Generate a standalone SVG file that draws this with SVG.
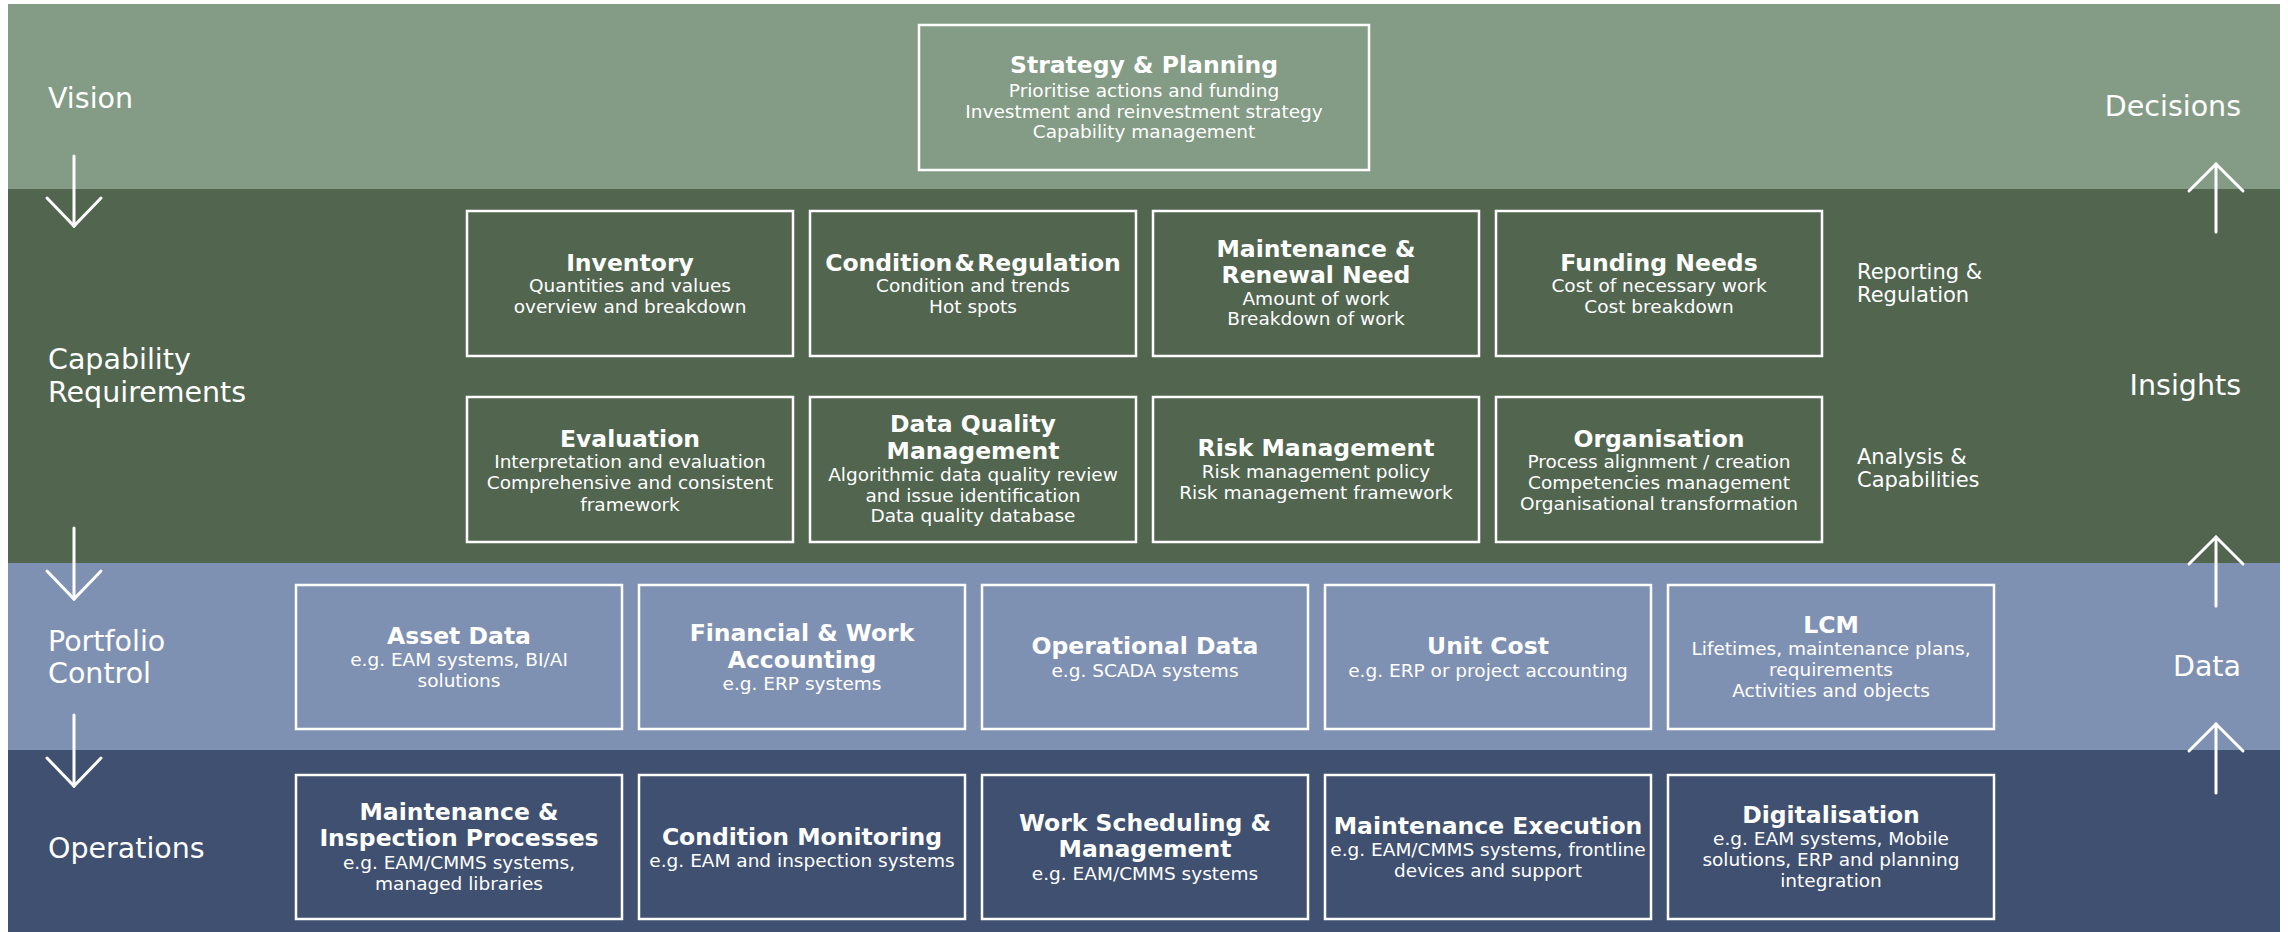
<svg xmlns="http://www.w3.org/2000/svg" width="2288" height="932" viewBox="0 0 2288 932">
  <style>
    .band-label { font-family: "DejaVu Sans", Verdana, sans-serif; font-size: 28.5px; fill: #ffffff; }
    .side-label { font-family: "DejaVu Sans", Verdana, sans-serif; font-size: 21px; fill: #ffffff; }
    .box { fill: none; stroke: #ffffff; stroke-width: 2.5; }
    .title { font-family: "DejaVu Sans", Verdana, sans-serif; font-size: 23.5px; font-weight: bold; fill: #ffffff; text-anchor: middle; }
    .sub { font-family: "DejaVu Sans", Verdana, sans-serif; font-size: 18.5px; fill: #ffffff; text-anchor: middle; }
    .flow { fill: none; stroke: #ffffff; stroke-width: 3; stroke-linecap: round; stroke-linejoin: miter; }
  </style>

  <rect x="0" y="0" width="2288" height="932" fill="#ffffff"/>

  <!-- Layer bands -->
  <g id="bands">
    <rect x="8" y="4" width="2272" height="185" fill="#849c85"/>
    <rect x="8" y="189" width="2272" height="374" fill="#51654f"/>
    <rect x="8" y="563" width="2272" height="187" fill="#7f91b3"/>
    <rect x="8" y="750" width="2272" height="182" fill="#3f5070"/>
  </g>

  <!-- Layer names (left) -->
  <g id="layer-names">
    <text class="band-label" x="48" y="108">Vision</text>
    <text class="band-label" x="48" y="369">Capability</text>
    <text class="band-label" x="48" y="402">Requirements</text>
    <text class="band-label" x="48" y="651">Portfolio</text>
    <text class="band-label" x="48" y="683">Control</text>
    <text class="band-label" x="48" y="858">Operations</text>
  </g>

  <!-- Layer outputs (right) -->
  <g id="layer-outputs">
    <text class="band-label" x="2241" y="116" text-anchor="end">Decisions</text>
    <text class="band-label" x="2241" y="395" text-anchor="end">Insights</text>
    <text class="band-label" x="2241" y="676" text-anchor="end">Data</text>
    <text class="side-label" x="1857" y="279">Reporting &amp;</text>
    <text class="side-label" x="1857" y="302">Regulation</text>
    <text class="side-label" x="1857" y="464">Analysis &amp;</text>
    <text class="side-label" x="1857" y="487">Capabilities</text>
  </g>

  <!-- Flow arrows: top-down on the left, bottom-up on the right -->
  <g id="connectors">
    <line class="flow" x1="74" y1="156" x2="74" y2="226"/>
    <polyline class="flow" points="47,198 74,226 101,198"/>
    <line class="flow" x1="74" y1="528" x2="74" y2="599"/>
    <polyline class="flow" points="47,571 74,599 101,571"/>
    <line class="flow" x1="74" y1="715" x2="74" y2="786"/>
    <polyline class="flow" points="47,758 74,786 101,758"/>

    <line class="flow" x1="2216" y1="232" x2="2216" y2="164"/>
    <polyline class="flow" points="2189,191 2216,164 2243,191"/>
    <line class="flow" x1="2216" y1="606" x2="2216" y2="537"/>
    <polyline class="flow" points="2189,564 2216,537 2243,564"/>
    <line class="flow" x1="2216" y1="793" x2="2216" y2="724"/>
    <polyline class="flow" points="2189,751 2216,724 2243,751"/>
  </g>

  <!-- Vision -->
  <g id="strategy-planning">
    <rect class="box" x="919" y="25" width="450" height="145"/>
    <text class="title" x="1144" y="73">Strategy &amp; Planning</text>
    <text class="sub" x="1144" y="97">Prioritise actions and funding</text>
    <text class="sub" x="1144" y="118">Investment and reinvestment strategy</text>
    <text class="sub" x="1144" y="138">Capability management</text>
  </g>

  <!-- Capability requirements, first row -->
  <g id="inventory">
    <rect class="box" x="467" y="211" width="326" height="145"/>
    <text class="title" x="630" y="271">Inventory</text>
    <text class="sub" x="630" y="292">Quantities and values</text>
    <text class="sub" x="630" y="313">overview and breakdown</text>
  </g>
  <g id="condition-regulation">
    <rect class="box" x="810" y="211" width="326" height="145"/>
    <text class="title" x="973" y="271" word-spacing="-6">Condition &amp; Regulation</text>
    <text class="sub" x="973" y="292">Condition and trends</text>
    <text class="sub" x="973" y="313">Hot spots</text>
  </g>
  <g id="maintenance-renewal-need">
    <rect class="box" x="1153" y="211" width="326" height="145"/>
    <text class="title" x="1316" y="257">Maintenance &amp;</text>
    <text class="title" x="1316" y="283">Renewal Need</text>
    <text class="sub" x="1316" y="305">Amount of work</text>
    <text class="sub" x="1316" y="325">Breakdown of work</text>
  </g>
  <g id="funding-needs">
    <rect class="box" x="1496" y="211" width="326" height="145"/>
    <text class="title" x="1659" y="271">Funding Needs</text>
    <text class="sub" x="1659" y="292">Cost of necessary work</text>
    <text class="sub" x="1659" y="313">Cost breakdown</text>
  </g>

  <!-- Capability requirements, second row -->
  <g id="evaluation">
    <rect class="box" x="467" y="397" width="326" height="145"/>
    <text class="title" x="630" y="447">Evaluation</text>
    <text class="sub" x="630" y="468">Interpretation and evaluation</text>
    <text class="sub" x="630" y="489">Comprehensive and consistent</text>
    <text class="sub" x="630" y="511">framework</text>
  </g>
  <g id="data-quality-management">
    <rect class="box" x="810" y="397" width="326" height="145"/>
    <text class="title" x="973" y="432">Data Quality</text>
    <text class="title" x="973" y="459">Management</text>
    <text class="sub" x="973" y="481">Algorithmic data quality review</text>
    <text class="sub" x="973" y="502">and issue identification</text>
    <text class="sub" x="973" y="522">Data quality database</text>
  </g>
  <g id="risk-management">
    <rect class="box" x="1153" y="397" width="326" height="145"/>
    <text class="title" x="1316" y="456">Risk Management</text>
    <text class="sub" x="1316" y="478">Risk management policy</text>
    <text class="sub" x="1316" y="499">Risk management framework</text>
  </g>
  <g id="organisation">
    <rect class="box" x="1496" y="397" width="326" height="145"/>
    <text class="title" x="1659" y="447">Organisation</text>
    <text class="sub" x="1659" y="468">Process alignment / creation</text>
    <text class="sub" x="1659" y="489">Competencies management</text>
    <text class="sub" x="1659" y="510">Organisational transformation</text>
  </g>

  <!-- Portfolio control -->
  <g id="asset-data">
    <rect class="box" x="296" y="585" width="326" height="144"/>
    <text class="title" x="459" y="644">Asset Data</text>
    <text class="sub" x="459" y="666">e.g. EAM systems, BI/AI</text>
    <text class="sub" x="459" y="687">solutions</text>
  </g>
  <g id="financial-work-accounting">
    <rect class="box" x="639" y="585" width="326" height="144"/>
    <text class="title" x="802" y="641">Financial &amp; Work</text>
    <text class="title" x="802" y="668">Accounting</text>
    <text class="sub" x="802" y="690">e.g. ERP systems</text>
  </g>
  <g id="operational-data">
    <rect class="box" x="982" y="585" width="326" height="144"/>
    <text class="title" x="1145" y="654">Operational Data</text>
    <text class="sub" x="1145" y="677">e.g. SCADA systems</text>
  </g>
  <g id="unit-cost">
    <rect class="box" x="1325" y="585" width="326" height="144"/>
    <text class="title" x="1488" y="654">Unit Cost</text>
    <text class="sub" x="1488" y="677">e.g. ERP or project accounting</text>
  </g>
  <g id="lcm">
    <rect class="box" x="1668" y="585" width="326" height="144"/>
    <text class="title" x="1831" y="633">LCM</text>
    <text class="sub" x="1831" y="655">Lifetimes, maintenance plans,</text>
    <text class="sub" x="1831" y="676">requirements</text>
    <text class="sub" x="1831" y="697">Activities and objects</text>
  </g>

  <!-- Operations -->
  <g id="maintenance-inspection">
    <rect class="box" x="296" y="775" width="326" height="144"/>
    <text class="title" x="459" y="820">Maintenance &amp;</text>
    <text class="title" x="459" y="846">Inspection Processes</text>
    <text class="sub" x="459" y="869">e.g. EAM/CMMS systems,</text>
    <text class="sub" x="459" y="890">managed libraries</text>
  </g>
  <g id="condition-monitoring">
    <rect class="box" x="639" y="775" width="326" height="144"/>
    <text class="title" x="802" y="845">Condition Monitoring</text>
    <text class="sub" x="802" y="867">e.g. EAM and inspection systems</text>
  </g>
  <g id="work-scheduling">
    <rect class="box" x="982" y="775" width="326" height="144"/>
    <text class="title" x="1145" y="831">Work Scheduling &amp;</text>
    <text class="title" x="1145" y="857">Management</text>
    <text class="sub" x="1145" y="880">e.g. EAM/CMMS systems</text>
  </g>
  <g id="maintenance-execution">
    <rect class="box" x="1325" y="775" width="326" height="144"/>
    <text class="title" x="1488" y="834">Maintenance Execution</text>
    <text class="sub" x="1488" y="856">e.g. EAM/CMMS systems, frontline</text>
    <text class="sub" x="1488" y="877">devices and support</text>
  </g>
  <g id="digitalisation">
    <rect class="box" x="1668" y="775" width="326" height="144"/>
    <text class="title" x="1831" y="823">Digitalisation</text>
    <text class="sub" x="1831" y="845">e.g. EAM systems, Mobile</text>
    <text class="sub" x="1831" y="866">solutions, ERP and planning</text>
    <text class="sub" x="1831" y="887">integration</text>
  </g>
</svg>
